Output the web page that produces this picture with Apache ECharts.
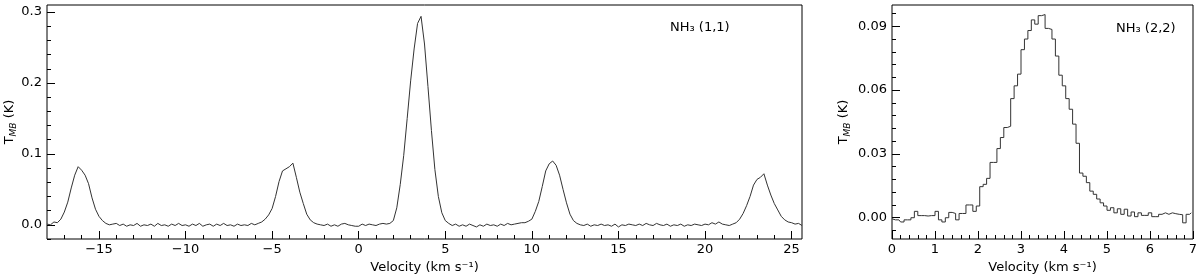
<!DOCTYPE html>
<html><head><meta charset="utf-8">
<script src="https://cdn.jsdelivr.net/npm/echarts@6/dist/echarts.min.js"></script>
<style>html,body{margin:0;padding:0;background:#fff}#c{width:1200px;height:280px}</style>
</head><body><div id="c"></div>
<script>
// ---- NH3 (1,1) spectrum: channel grid and brightness temperature (K)
const vel11Start = -18.0;
const vel11Step = 0.2;
const tmb11 = [
  0.001, 0.000, 0.004, 0.003, 0.008, 0.018, 0.032, 0.052, 0.070, 0.082,
  0.077, 0.070, 0.058, 0.038, 0.022, 0.012, 0.006, 0.002, 0.000, 0.001,
  0.002, -0.001, 0.001, -0.002, 0.000, -0.001, 0.002, -0.002, 0.000, -0.001,
  0.001, -0.002, 0.002, -0.001, 0.000, -0.002, 0.001, -0.001, 0.002, -0.001,
  0.000, -0.002, 0.001, -0.001, 0.002, -0.002, 0.000, 0.001, -0.002, 0.001,
  -0.001, 0.002, -0.001, 0.000, -0.002, 0.001, -0.001, 0.000, -0.001, 0.002,
  0.000, 0.002, 0.004, 0.008, 0.014, 0.023, 0.040, 0.061, 0.076, 0.079,
  0.082, 0.087, 0.067, 0.046, 0.030, 0.015, 0.007, 0.003, 0.001, 0.000,
  -0.001, 0.001, -0.002, 0.000, -0.002, 0.001, 0.002, 0.000, -0.001, -0.002,
  -0.002, 0.001, -0.001, 0.001, 0.000, -0.001, 0.001, 0.002, 0.001, 0.002,
  0.006, 0.024, 0.057, 0.098, 0.150, 0.203, 0.248, 0.284, 0.294, 0.255,
  0.195, 0.133, 0.078, 0.040, 0.017, 0.006, 0.002, -0.001, 0.001, -0.002,
  0.000, -0.002, 0.001, -0.001, -0.003, 0.000, -0.002, 0.001, -0.001, 0.000,
  -0.002, 0.001, -0.001, 0.002, 0.000, 0.001, 0.002, 0.003, 0.003, 0.005,
  0.008, 0.019, 0.033, 0.054, 0.076, 0.086, 0.090, 0.084, 0.070, 0.050,
  0.031, 0.015, 0.006, 0.002, 0.000, -0.001, 0.001, -0.002, 0.000, -0.001,
  0.001, -0.001, 0.000, -0.002, 0.001, -0.003, 0.000, -0.001, 0.001, 0.000,
  -0.001, 0.001, -0.001, 0.002, 0.000, -0.001, 0.002, 0.000, -0.001, 0.001,
  -0.002, 0.000, -0.001, 0.001, -0.002, 0.000, -0.001, 0.001, 0.000, -0.001,
  0.001, 0.000, 0.003, 0.001, 0.004, 0.001, 0.000, -0.001, 0.001, 0.003,
  0.008, 0.016, 0.027, 0.040, 0.056, 0.064, 0.067, 0.072, 0.056, 0.042,
  0.030, 0.021, 0.012, 0.007, 0.004, 0.003, 0.001, 0.002, -0.001
];

// ---- NH3 (2,2) spectrum
const vel22Start = 0.0;
const vel22Step = 0.08;
const tmb22 = [
  -0.0005, -0.001, -0.001, -0.002, -0.001, -0.001, 0.000, 0.003, 0.001, 0.001,
  0.0008, 0.001, 0.001, 0.003, -0.001, -0.002, 0.000, 0.0025, 0.002, -0.001,
  0.002, 0.002, 0.006, 0.006, 0.003, 0.0055, 0.0146, 0.0157, 0.0185, 0.026,
  0.026, 0.0325, 0.0377, 0.0424, 0.043, 0.056, 0.062, 0.0675, 0.079, 0.084,
  0.088, 0.093, 0.091, 0.095, 0.0955, 0.089, 0.0885, 0.084, 0.076, 0.067,
  0.062, 0.056, 0.051, 0.044, 0.035, 0.021, 0.0195, 0.0165, 0.0125, 0.011,
  0.0088, 0.007, 0.0055, 0.0035, 0.0047, 0.0023, 0.0042, 0.0016, 0.004, 0.0008,
  0.0027, 0.0005, 0.0023, 0.0011, 0.0011, 0.0023, 0.0005, 0.0005, 0.0016, 0.0023,
  0.0016, 0.0023, 0.0019, 0.0016, 0.0014, -0.0024, 0.0016, 0.0023
];

// ---- tick labels
const xTicks11 = [-15, -10, -5, 0, 5, 10, 15, 20, 25];
const yTicks11 = [0, 0.1, 0.2, 0.3];
const xTicks22 = [0, 1, 2, 3, 4, 5, 6, 7];
const yTicks22 = [0, 0.03, 0.06, 0.09];
const title11 = 'NH\u2083 (1,1)';
const title22 = 'NH\u2083 (2,2)';
const xName = 'Velocity (km s\u207B\u00B9)';

function range(a, b, step) {
  const out = [];
  const n = Math.round((b - a) / step);
  for (let i = 0; i <= n; i++) out.push(Math.round((a + i * step) * 10000) / 10000);
  return out;
}
const xMinor11 = range(-17, 25, 1);
const yMinor11 = range(-0.02, 0.3, 0.02);
const xMinor22 = range(0, 7, 0.2);
const yMinor22 = range(-0.006, 0.096, 0.006);

const data11 = tmb11.map((t, i) => [Math.round((vel11Start + i * vel11Step) * 100) / 100, t]);
const data22 = tmb22.map((t, i) => [Math.round((vel22Start + i * vel22Step) * 100) / 100, t]);

const FONT = 'DejaVu Sans';
const FS = 13;
const lbl = { fontFamily: FONT, fontSize: FS, color: '#000' };
const minus = v => (v < 0 ? '\u2212' + Math.abs(v) : String(v));

const G1 = { left: 47, top: 5, width: 755, height: 234 };
const G2 = { left: 892, top: 5, width: 301, height: 234 };

function mainX(grid, min, max, ticks, fmt) {
  return {
    type: 'value', gridIndex: grid, min, max,
    axisLine: { show: false, onZero: false },
    splitLine: { show: false },
    axisTick: { show: true, inside: true, length: 8, customValues: ticks, lineStyle: { color: '#000', width: 1 } },
    axisLabel: Object.assign({ show: true, margin: 4, customValues: ticks, formatter: fmt }, lbl),
    name: xName, nameLocation: 'middle', nameGap: 22, nameMoveOverlap: false,
    nameTextStyle: { fontFamily: FONT, fontSize: FS, color: '#000' }
  };
}
function minorAxis(grid, min, max, ticks) {
  return {
    type: 'value', gridIndex: grid, min, max,
    axisLine: { show: false, onZero: false }, splitLine: { show: false },
    axisLabel: { show: false },
    axisTick: { show: true, inside: true, length: 4, customValues: ticks, lineStyle: { color: '#000', width: 1 } }
  };
}
function mainY(grid, min, max, ticks, fmt, gap) {
  return {
    type: 'value', gridIndex: grid, min, max,
    axisLine: { show: false, onZero: false },
    splitLine: { show: false },
    axisTick: { show: true, inside: true, length: 8, customValues: ticks, lineStyle: { color: '#000', width: 1 } },
    axisLabel: Object.assign({ show: true, margin: 5, customValues: ticks, formatter: fmt }, lbl),
    name: '{t|T}{s|MB}{t| (K)}', nameLocation: 'middle', nameGap: gap, nameRotate: 90, nameMoveOverlap: false,
    nameTextStyle: {
      fontFamily: FONT, fontSize: FS, color: '#000',
      rich: {
        t: { fontFamily: FONT, fontSize: FS, color: '#000', lineHeight: 16 },
        s: { fontFamily: FONT, fontSize: 9, fontStyle: 'italic', color: '#000', verticalAlign: 'bottom', lineHeight: 10 }
      }
    }
  };
}

const gridBase = { outerBoundsMode: 'none', containLabel: false };

const chart = echarts.init(document.getElementById('c'), null, { renderer: 'canvas' });
chart.setOption({
  animation: false,
  backgroundColor: '#fff',
  title: [
    { text: title11, left: 665, top: 16, textStyle: { fontFamily: FONT, fontSize: FS, fontWeight: 'normal', color: '#000' } },
    { text: title22, left: 1111, top: 17, textStyle: { fontFamily: FONT, fontSize: FS, fontWeight: 'normal', color: '#000' } }
  ],
  grid: [
    Object.assign({ show: true, borderColor: '#000', borderWidth: 1, backgroundColor: 'transparent' }, gridBase, G1),
    Object.assign({ show: false }, gridBase, G1),
    Object.assign({ show: true, borderColor: '#000', borderWidth: 1, backgroundColor: 'transparent' }, gridBase, G2),
    Object.assign({ show: false }, gridBase, G2)
  ],
  xAxis: [
    mainX(0, -18, 25.6, xTicks11, v => minus(v)),
    minorAxis(1, -18, 25.6, xMinor11),
    mainX(2, 0, 7, xTicks22, v => String(v)),
    minorAxis(3, 0, 7, xMinor22)
  ],
  yAxis: [
    mainY(0, -0.02, 0.31, yTicks11, v => v.toFixed(1), 29),
    minorAxis(1, -0.02, 0.31, yMinor11),
    mainY(2, -0.01, 0.1, yTicks22, v => v.toFixed(2), 40),
    minorAxis(3, -0.01, 0.1, yMinor22)
  ],
  series: [
    { type: 'line', xAxisIndex: 0, yAxisIndex: 0, data: data11, showSymbol: false, symbol: 'none',
      lineStyle: { color: '#333', width: 1 }, clip: true },
    { type: 'line', xAxisIndex: 2, yAxisIndex: 2, data: data22, step: 'middle', showSymbol: false, symbol: 'none',
      lineStyle: { color: '#333', width: 1 }, clip: true }
  ]
});
</script>
</body></html>
